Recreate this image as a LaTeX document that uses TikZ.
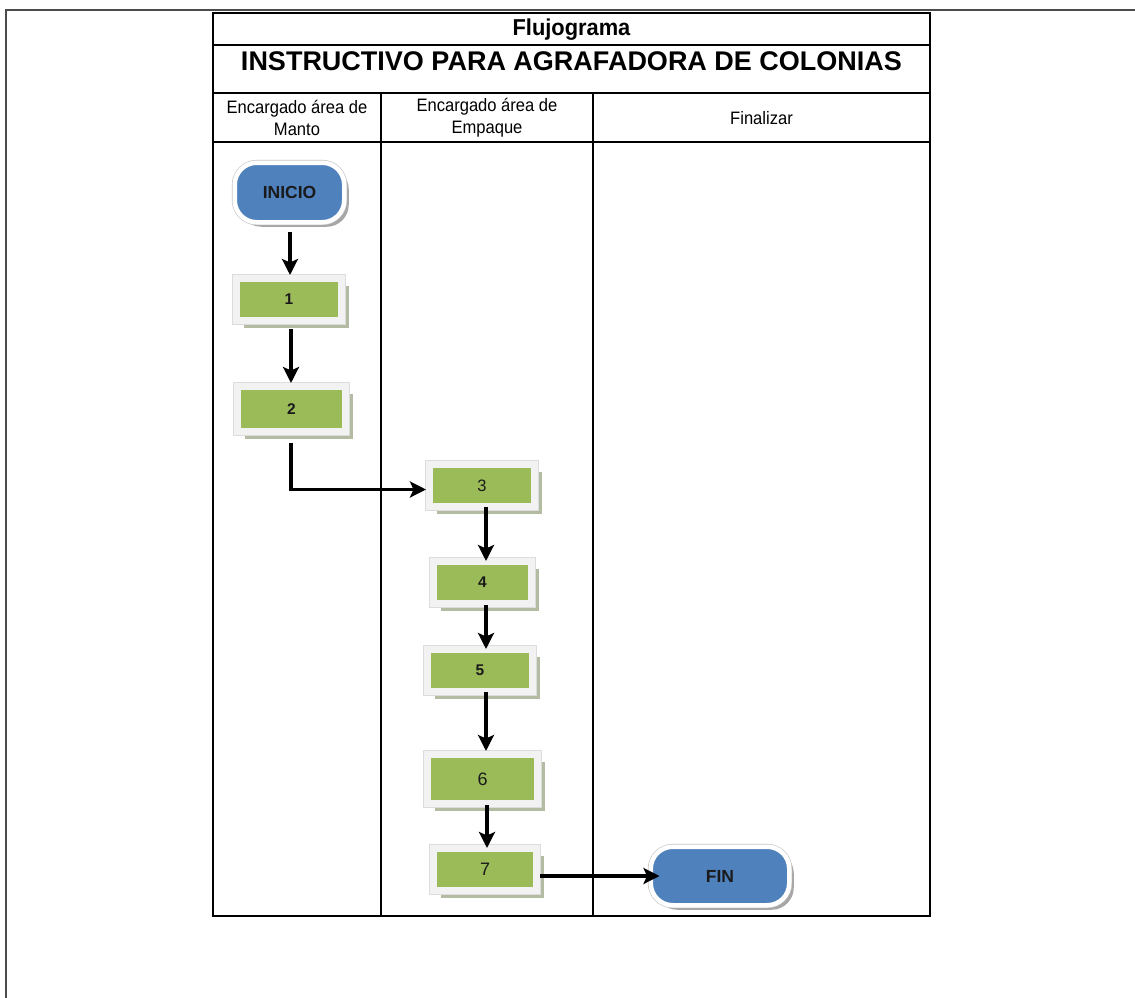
\documentclass[tikz,border=0pt]{standalone}
\usepackage{fontspec}
\setmainfont{Liberation Sans}
\newfontfamily\narrowf[FakeStretch=0.95]{Liberation Sans}
\newfontfamily\hdrf[FakeStretch=0.92]{Liberation Sans}
\usetikzlibrary{shadows,arrows.meta}
\definecolor{boxgreen}{HTML}{9BBB59}
\definecolor{termblue}{HTML}{4F81BD}
\definecolor{framec}{HTML}{F2F2F2}
\definecolor{framedark}{HTML}{DCDCDC}
\definecolor{shadowg}{HTML}{B3BBA3}
\definecolor{shadowt}{HTML}{A6A6A6}
\definecolor{txt}{HTML}{1A1A1A}
\tikzset{
  tbl/.style={line width=1.5pt, black},
  pageframe/.style={line width=2pt, black!70},
  proc/.style={rectangle, inner sep=0pt, fill=boxgreen, draw=framec, line width=7pt,
    drop shadow={shadow xshift=7pt, shadow yshift=-7pt, fill=shadowg, opacity=1},
    preaction={draw=framedark, line width=8.5pt},
    text=txt},
  numb/.style={font=\bfseries\fontsize{15.5}{17}\selectfont},
  numr/.style={font=\fontsize{16.5}{18}\selectfont},
  numl/.style={font=\fontsize{18}{20}\selectfont},
  term/.style={rectangle, rounded corners=22pt, inner sep=0pt, fill=termblue, draw=white, line width=4.5pt,
    drop shadow={shadow xshift=4.5pt, shadow yshift=-4.5pt, fill=shadowt, opacity=1},
    preaction={draw=black!22, line width=5.8pt},
    text=txt, font=\bfseries\fontsize{17.5}{19}\selectfont},
  flow/.style={line width=3.5pt, black, -{Stealth[length=16pt,width=16pt,inset=3.5pt]}},
  hdr/.style={align=center, font=\hdrf\fontsize{18}{22}\selectfont},
}
\begin{document}
\begin{tikzpicture}[x=1pt,y=-1pt]
\useasboundingbox (0,0) rectangle (1135,998);
\fill[white] (0,0) rectangle (1135,998);
% page frame
\draw[pageframe] (6,998) -- (6,10) -- (1135,10);
% table
\draw[tbl] (213,13) rectangle (930,916);
\draw[tbl] (213,45) -- (930,45);
\draw[tbl] (213,93) -- (930,93);
\draw[tbl] (213,142) -- (930,142);
\draw[tbl] (381,93) -- (381,916);
\draw[tbl] (593,93) -- (593,916);
% titles
\node[font=\narrowf\bfseries\fontsize{23}{25}\selectfont] (title1) at (571.5,29.5) {Flujograma};
\node[font=\bfseries\fontsize{27}{30}\selectfont] (title2) at (571.5,61) {INSTRUCTIVO PARA AGRAFADORA DE COLONIAS};
\node[hdr] (h1) at (297,118) {Encargado área de\\Manto};
\node[hdr] (h2) at (487,118) {Encargado área de\\Empaque};
\node[hdr] (h3) at (761.5,118) {Finalizar};
% shapes
\node[term, minimum width=109.5pt, minimum height=59.5pt] (inicio) at (289.5,192.5) {INICIO};
\node[proc, numb, minimum width=105pt, minimum height=42pt] (b1) at (289,299.5) {1};
\node[proc, numb, minimum width=108pt, minimum height=45pt] (b2) at (291.5,409) {2};
\node[proc, numr, minimum width=105pt, minimum height=42pt] (b3) at (482,485.5) {3};
\node[proc, numb, minimum width=98pt, minimum height=42pt] (b4) at (482.5,582.5) {4};
\node[proc, numb, minimum width=105pt, minimum height=42pt] (b5) at (480,670.5) {5};
\node[proc, numl, minimum width=110pt, minimum height=49pt] (b6) at (482.5,779) {6};
\node[proc, numl, minimum width=103pt, minimum height=42pt] (b7) at (485,869.5) {7};
\node[term, minimum width=138.5pt, minimum height=58.5pt] (fin) at (720,876) {FIN};
% connectors
\draw[flow, shorten <=7.5pt] ([xshift=0.5pt]inicio.south) -- ([xshift=0.5pt]inicio.south |- b1.north);
\draw[flow, shorten <=5pt] ([xshift=2pt]b1.south) -- ([xshift=2pt]b1.south |- b2.north);
\draw[flow, shorten <=8pt] ([xshift=-0.5pt]b2.south) |- ([yshift=-4pt]b3.west);
\draw[flow, shorten <=-3pt, shorten >=-3pt] ([xshift=4pt]b3.south) -- ([xshift=4pt]b3.south |- b4.north);
\draw[flow, shorten <=-2pt, shorten >=-3pt] ([xshift=3.5pt]b4.south) -- ([xshift=3.5pt]b4.south |- b5.north);
\draw[flow, shorten <=-3pt] ([xshift=6pt]b5.south) -- ([xshift=6pt]b5.south |- b6.north);
\draw[flow, shorten <=-2pt, shorten >=-3pt] ([xshift=4.5pt]b6.south) -- ([xshift=4.5pt]b6.south |- b7.north);
\draw[flow, shorten >=-11pt] (b7.east |- fin.west) -- (fin.west);
\end{tikzpicture}
\end{document}
